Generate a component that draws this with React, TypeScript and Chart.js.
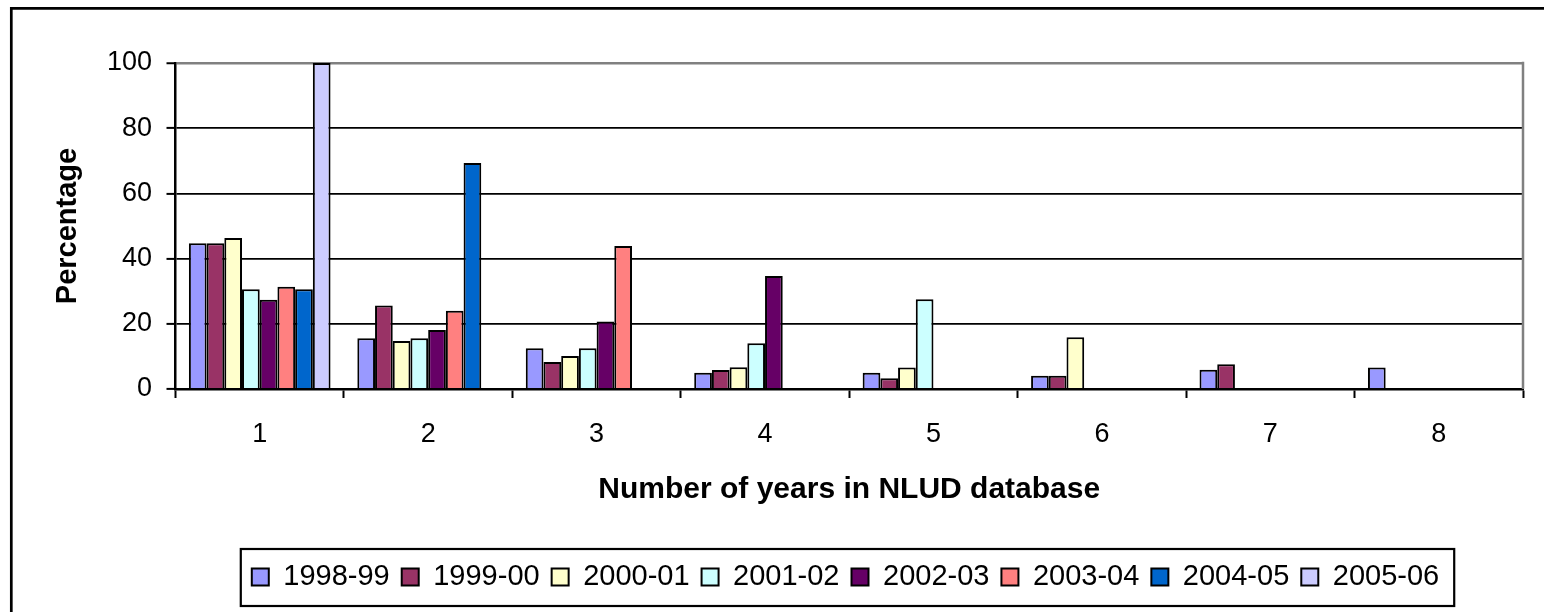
import React, { useEffect, useRef } from "react";
import { Chart, registerables } from "chart.js";

Chart.register(...registerables);

const categories = ["1", "2", "3", "4", "5", "6", "7", "8"];
const seriesLabels = ["1998-99", "1999-00", "2000-01", "2001-02", "2002-03", "2003-04", "2004-05", "2005-06"];
const s199899 = [44.7, 15.6, 12.5, 5.0, 5.0, 4.1, 5.9, 6.6];
const s199900 = [44.7, 25.6, 8.3, 5.8, 3.3, 4.1, 7.6, null];
const s200001 = [46.3, 14.7, 10.1, 6.7, 6.6, 15.9, null, null];
const s200102 = [30.6, 15.6, 12.5, 14.0, 27.5, null, null, null];
const s200203 = [27.4, 18.1, 20.7, 34.7, null, null, null, null];
const s200304 = [31.4, 24.0, 43.9, null, null, null, null, null];
const s200405 = [30.6, 69.3, null, null, null, null, null, null];
const s200506 = [100, null, null, null, null, null, null, null];
const seriesValues = [s199899, s199900, s200001, s200102, s200203, s200304, s200405, s200506];
const seriesColors = ["#9999FF", "#993366", "#FFFFCC", "#CCFFFF", "#660066", "#FF8080", "#0066CC", "#CCCCFF"];
const yTicks = [0, 20, 40, 60, 80, 100];

const FONT = "'Liberation Sans', Arial, Helvetica, sans-serif";
const LEGEND_CENTER = 845.5;

const decorPlugin = {
  id: "decor",
  afterLayout(chart: any) {
    const lg = chart.legend;
    if (lg) {
      const shift = LEGEND_CENTER - (lg.left + lg.right) / 2;
      lg.left += shift;
      lg.right += shift;
    }
  },
  beforeDraw(chart: any) {
    const ctx = chart.ctx;
    ctx.save();
    ctx.fillStyle = "#ffffff";
    ctx.fillRect(0, 0, chart.width, chart.height);
    ctx.strokeStyle = "#000000";
    ctx.lineWidth = 2.7;
    ctx.beginPath();
    ctx.moveTo(11.3, chart.height + 5);
    ctx.lineTo(11.3, 8.3);
    ctx.lineTo(chart.width + 5, 8.3);
    ctx.stroke();
    ctx.restore();
  },
  beforeDatasetsDraw(chart: any) {
    const ctx = chart.ctx;
    const a = chart.chartArea;
    ctx.save();
    ctx.strokeStyle = "#808080";
    ctx.lineWidth = 2.5;
    ctx.beginPath();
    ctx.moveTo(a.right, a.top - 1.2);
    ctx.lineTo(a.right, a.bottom);
    ctx.stroke();
    ctx.restore();
  },
  afterDraw(chart: any) {
    const lg = chart.legend;
    if (!lg || !lg.lineWidths) return;
    const ctx = chart.ctx;
    const pad = lg.options.labels.padding;
    const span = lg.lineWidths[0] - pad;
    const cx = (lg.left + lg.right) / 2;
    const left = cx - span / 2 - 11;
    const right = cx + span / 2 + 15;
    ctx.save();
    ctx.strokeStyle = "#000000";
    ctx.lineWidth = 2.2;
    ctx.strokeRect(left, lg.top - 1.5, right - left, 57);
    ctx.restore();
  },
};

export default function App() {
  const ref = useRef<HTMLCanvasElement | null>(null);

  useEffect(() => {
    if (!ref.current) return;
    const chart = new Chart(ref.current, {
      type: "bar",
      data: {
        labels: categories,
        datasets: seriesValues.map((vals, i) => ({
          label: seriesLabels[i],
          data: vals,
          backgroundColor: seriesColors[i],
          borderColor: "#000000",
          borderWidth: 2,
          categoryPercentage: 0.841,
          barPercentage: 1.0,
        })),
      },
      options: {
        responsive: false,
        animation: false,
        devicePixelRatio: 1,
        layout: { padding: { top: 63, left: 0, right: 21, bottom: 10.5 } },
        plugins: {
          legend: {
            display: true,
            position: "bottom",
            labels: {
              font: { family: FONT, size: 29 },
              color: "#000000",
              boxWidth: 17,
              boxHeight: 17,
              padding: 12,
            },
          },
          tooltip: { enabled: false },
          title: { display: false },
        },
        scales: {
          x: {
            type: "category",
            offset: true,
            grid: {
              offset: true,
              drawOnChartArea: false,
              drawTicks: true,
              tickLength: 9,
              tickColor: "#000000",
              tickWidth: 2,
              color: "#000000",
            },
            border: { display: true, color: "#000000", width: 2.5 },
            ticks: {
              font: { family: FONT, size: 27 },
              color: "#000000",
              padding: 20,
              maxRotation: 0,
              autoSkip: false,
            },
            title: {
              display: true,
              text: "Number of years in NLUD database",
              font: { family: FONT, size: 30, weight: "bold" },
              color: "#000000",
              padding: { top: 0, bottom: 43 },
            },
            afterFit(scale: any) {
              scale.height = 161.5;
            },
          },
          y: {
            min: 0,
            max: 100,
            afterBuildTicks(scale: any) {
              scale.ticks = yTicks.map((v) => ({ value: v }));
            },
            grid: {
              color: (c: any) => (c.tick && c.tick.value === 100 ? "#808080" : "#000000"),
              lineWidth: (c: any) => (c.tick && c.tick.value === 100 ? 2.5 : 1.8),
              tickColor: "#000000",
              tickLength: 9,
              tickWidth: 2,
            },
            border: { display: true, color: "#000000", width: 2.5 },
            ticks: {
              font: { family: FONT, size: 27 },
              color: "#000000",
              padding: 14.5,
            },
            title: {
              display: true,
              text: "Percentage",
              font: { family: FONT, size: 29, weight: "bold" },
              color: "#000000",
              padding: { top: 51, bottom: 0 },
            },
            afterFit(scale: any) {
              scale.width = 175.5;
            },
          },
        },
      },
      plugins: [decorPlugin],
    } as any);
    return () => chart.destroy();
  }, []);

  return (
    <div style={{ position: "fixed", left: 0, top: 0, width: 1544, height: 612, background: "#fff" }}>
      <canvas ref={ref} width={1544} height={612} style={{ display: "block", width: 1544, height: 612 }} />
    </div>
  );
}
